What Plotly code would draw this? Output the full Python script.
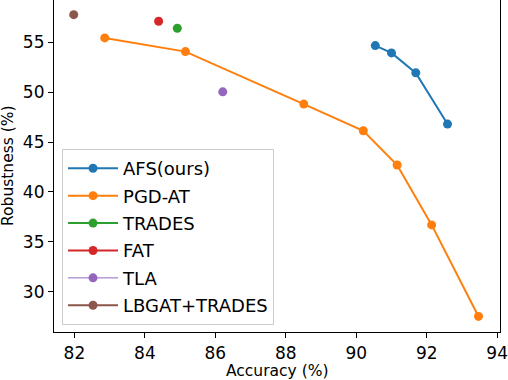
import plotly.graph_objects as go

afs_x = [90.54, 91.0, 91.69, 92.59]
afs_y = [54.66, 53.93, 51.93, 46.8]
pgd_x = [82.86, 85.15, 88.51, 90.2, 91.16, 92.14, 93.47]
pgd_y = [55.43, 54.06, 48.8, 46.13, 42.7, 36.7, 27.53]
trades_x = [84.92]
trades_y = [56.4]
fat_x = [84.39]
fat_y = [57.1]
tla_x = [86.21]
tla_y = [50.03]
lbgat_x = [81.98]
lbgat_y = [57.76]

x_ticks = [82, 84, 86, 88, 90, 92, 94]
y_ticks = [30, 35, 40, 45, 50, 55]

series = [
    ("AFS(ours)", afs_x, afs_y, "#1f77b4", 2),
    ("PGD-AT", pgd_x, pgd_y, "#ff7f0e", 2),
    ("TRADES", trades_x, trades_y, "#2ca02c", 2),
    ("FAT", fat_x, fat_y, "#d62728", 2),
    ("TLA", tla_x, tla_y, "#9467bd", 1),
    ("LBGAT+TRADES", lbgat_x, lbgat_y, "#8c564b", 2),
]

fig = go.Figure()
for name, xs, ys, c, lw in series:
    fig.add_trace(go.Scatter(
        x=xs, y=ys, name=name, mode="lines+markers", legendgroup=name,
        line=dict(color=c, width=lw),
        marker=dict(color=c, size=9),
    ))

font = "DejaVu Sans"
fig.update_layout(
    width=508, height=380,
    margin=dict(l=54, r=8, t=0, b=48),
    paper_bgcolor="white", plot_bgcolor="white",
    font=dict(family=font, color="black"),
    showlegend=True,
    legend=dict(
        x=0.018, y=0.551, xanchor="left", yanchor="top",
        bgcolor="rgba(255,255,255,0.8)", bordercolor="#cccccc", borderwidth=1,
        font=dict(family=font, size=18, color="black"),
        tracegroupgap=1, itemwidth=50,
    ),
    xaxis=dict(
        range=[81.42, 94.08], tickvals=x_ticks, ticktext=[str(v) for v in x_ticks],
        showgrid=False, zeroline=False, showline=True, linecolor="black", linewidth=1.2,
        ticks="outside", ticklen=5, tickcolor="black", automargin=False,
        tickfont=dict(family=font, size=17),
    ),
    yaxis=dict(
        range=[25.97, 59.23], tickvals=y_ticks, ticktext=[str(v) for v in y_ticks],
        showgrid=False, zeroline=False, showline=True, mirror=True, linecolor="black", linewidth=1.2,
        ticks="outside", ticklen=5, tickcolor="black", automargin=False,
        tickfont=dict(family=font, size=17),
    ),
    annotations=[
        dict(text="Accuracy (%)", xref="paper", yref="paper", x=0.5, y=-0.1175,
             xanchor="center", yanchor="middle", showarrow=False,
             font=dict(family=font, size=15.5, color="black")),
        dict(text="Robustness (%)", xref="paper", yref="paper", x=-(54 - 8) / 446, y=0.5,
             xanchor="center", yanchor="middle", showarrow=False, textangle=-90,
             font=dict(family=font, size=15.5, color="black")),
    ],
)

fig.write_html("out.html", config={"displayModeBar": False})

with open("out.html", "r", encoding="utf-8") as f:
    html = f.read()
html = html.replace("<body>", '<body style="margin:0;padding:0;overflow:hidden">', 1)
with open("out.html", "w", encoding="utf-8") as f:
    f.write(html)
